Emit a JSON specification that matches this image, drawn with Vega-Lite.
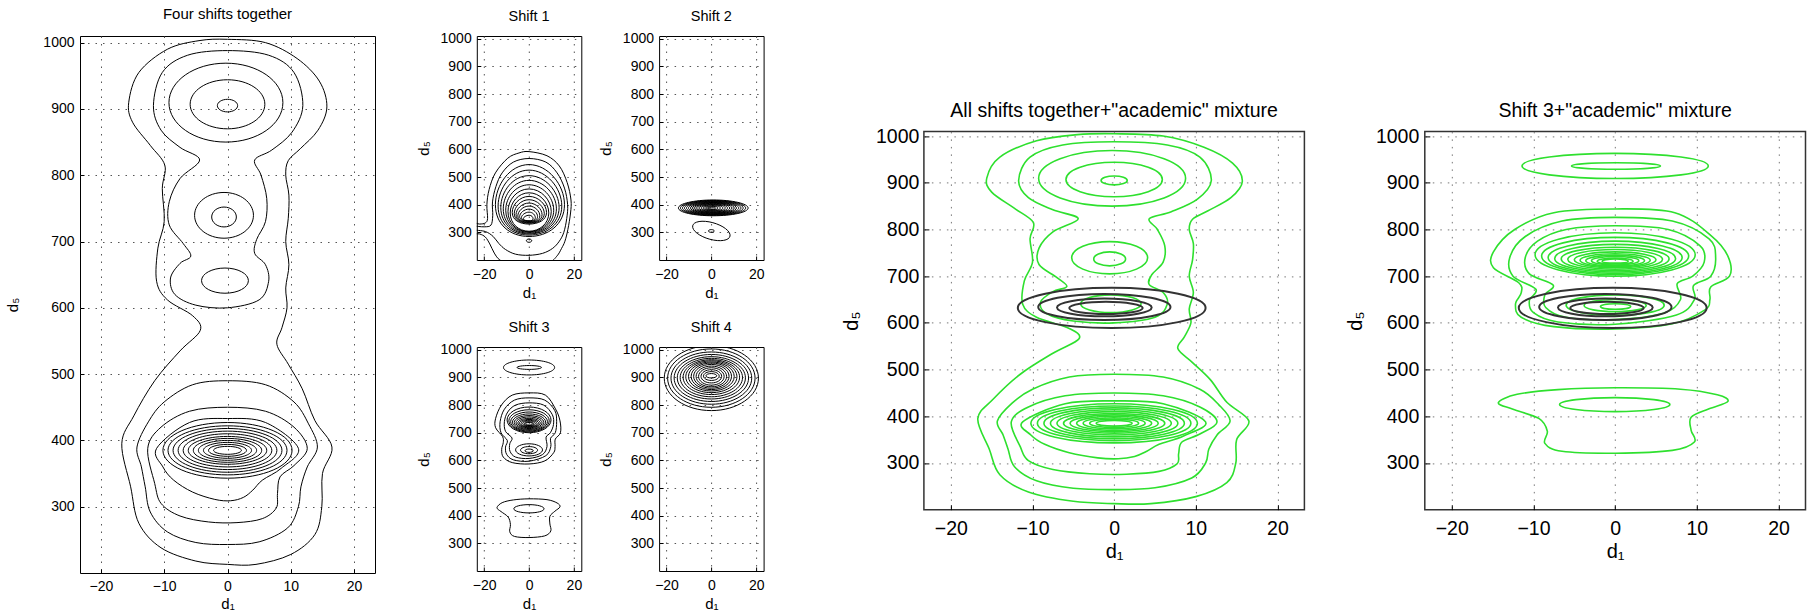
{
"$schema":"https://vega.github.io/schema/vega-lite/v6.json",
"padding":{"left":5,"top":6,"right":0,"bottom":0},
"autosize":{"type":"pad"},
"config":{
"font":"Liberation Sans",
"view":{"stroke":"#000","strokeWidth":1},
"axis":{"grid":true,"gridColor":"#555","gridDash":[1.5,6],"gridOpacity":1,"domain":false,"ticks":true,"tickSize":-4,"tickColor":"#000","labelColor":"#000","titleColor":"#000","titleFontWeight":"normal","labelFont":"Liberation Sans","titleFont":"Liberation Sans","labelFlush":false,"labelOverlap":false},
"title":{"fontWeight":"normal","color":"#000","font":"Liberation Sans","anchor":"middle"}
},
"datasets":{
"all_f":[
{"c":"a","o":1,"x":0,"y":1005},{"c":"a","o":2,"x":6,"y":1000},{"c":"a","o":3,"x":11,"y":976},{"c":"a","o":4,"x":14.5,"y":942},{"c":"a","o":5,"x":15.7,"y":903},{"c":"a","o":6,"x":14.3,"y":868},{"c":"a","o":7,"x":11.5,"y":840},{"c":"a","o":8,"x":9.6,"y":822},{"c":"a","o":9,"x":9.2,"y":800},{"c":"a","o":10,"x":9.7,"y":770},{"c":"a","o":11,"x":9.6,"y":735},{"c":"a","o":12,"x":9.2,"y":700},{"c":"a","o":13,"x":9.7,"y":665},{"c":"a","o":14,"x":9.2,"y":630},{"c":"a","o":15,"x":9.4,"y":600},{"c":"a","o":16,"x":8.6,"y":570},{"c":"a","o":17,"x":7.8,"y":545},{"c":"a","o":18,"x":9.6,"y":515},{"c":"a","o":19,"x":11.8,"y":478},{"c":"a","o":20,"x":13.8,"y":430},{"c":"a","o":21,"x":16.5,"y":390},{"c":"a","o":22,"x":15,"y":350},{"c":"a","o":23,"x":14.9,"y":300},{"c":"a","o":24,"x":13.8,"y":258},{"c":"a","o":25,"x":10,"y":228},{"c":"a","o":26,"x":4.5,"y":213},{"c":"a","o":27,"x":0,"y":213},{"c":"a","o":28,"x":-5,"y":218},{"c":"a","o":29,"x":-10.5,"y":238},{"c":"a","o":30,"x":-14,"y":275},{"c":"a","o":31,"x":-15.3,"y":330},{"c":"a","o":32,"x":-16.7,"y":395},{"c":"a","o":33,"x":-14.8,"y":437},{"c":"a","o":34,"x":-11.5,"y":490},{"c":"a","o":35,"x":-7.5,"y":535},{"c":"a","o":36,"x":-4.3,"y":566},{"c":"a","o":37,"x":-5.5,"y":588},{"c":"a","o":38,"x":-9.5,"y":612},{"c":"a","o":39,"x":-11.2,"y":640},{"c":"a","o":40,"x":-11,"y":690},{"c":"a","o":41,"x":-10,"y":730},{"c":"a","o":42,"x":-10.3,"y":780},{"c":"a","o":43,"x":-9.9,"y":815},{"c":"a","o":44,"x":-12.2,"y":845},{"c":"a","o":45,"x":-15,"y":880},{"c":"a","o":46,"x":-15.6,"y":910},{"c":"a","o":47,"x":-14,"y":955},{"c":"a","o":48,"x":-9.5,"y":990},{"c":"a","o":49,"x":-4.5,"y":1003},
{"c":"b","o":1,"x":0,"y":988},{"c":"b","o":2,"x":6.5,"y":981},{"c":"b","o":3,"x":10.5,"y":955},{"c":"b","o":4,"x":11.9,"y":905},{"c":"b","o":5,"x":10.2,"y":865},{"c":"b","o":6,"x":7,"y":838},{"c":"b","o":7,"x":4.3,"y":823},{"c":"b","o":8,"x":5.3,"y":800},{"c":"b","o":9,"x":6.2,"y":765},{"c":"b","o":10,"x":6,"y":730},{"c":"b","o":11,"x":4.6,"y":703},{"c":"b","o":12,"x":4.3,"y":682},{"c":"b","o":13,"x":6,"y":665},{"c":"b","o":14,"x":6.5,"y":640},{"c":"b","o":15,"x":5,"y":612},{"c":"b","o":16,"x":0,"y":600},{"c":"b","o":17,"x":-5,"y":604},{"c":"b","o":18,"x":-8.3,"y":620},{"c":"b","o":19,"x":-9,"y":645},{"c":"b","o":20,"x":-7.5,"y":667},{"c":"b","o":21,"x":-5.8,"y":678},{"c":"b","o":22,"x":-7,"y":697},{"c":"b","o":23,"x":-9.2,"y":725},{"c":"b","o":24,"x":-9.2,"y":760},{"c":"b","o":25,"x":-7.5,"y":795},{"c":"b","o":26,"x":-4.4,"y":823},{"c":"b","o":27,"x":-7.5,"y":842},{"c":"b","o":28,"x":-10.5,"y":868},{"c":"b","o":29,"x":-11.7,"y":905},{"c":"b","o":30,"x":-10.3,"y":955},{"c":"b","o":31,"x":-6.3,"y":981},
{"c":"c","o":1,"x":0,"y":490},{"c":"c","o":2,"x":6,"y":484},{"c":"c","o":3,"x":10.5,"y":458},{"c":"c","o":4,"x":12.8,"y":425},{"c":"c","o":5,"x":14.2,"y":390},{"c":"c","o":6,"x":12.6,"y":360},{"c":"c","o":7,"x":11.6,"y":330},{"c":"c","o":8,"x":11.2,"y":300},{"c":"c","o":9,"x":9.5,"y":268},{"c":"c","o":10,"x":5,"y":247},{"c":"c","o":11,"x":0,"y":243},{"c":"c","o":12,"x":-5,"y":246},{"c":"c","o":13,"x":-9.5,"y":262},{"c":"c","o":14,"x":-12.2,"y":292},{"c":"c","o":15,"x":-13,"y":330},{"c":"c","o":16,"x":-13.6,"y":360},{"c":"c","o":17,"x":-14.3,"y":390},{"c":"c","o":18,"x":-12.5,"y":428},{"c":"c","o":19,"x":-10,"y":458},{"c":"c","o":20,"x":-5.5,"y":484},
{"c":"d","o":1,"x":0,"y":450},{"c":"d","o":2,"x":6,"y":444},{"c":"d","o":3,"x":10.5,"y":420},{"c":"d","o":4,"x":12.6,"y":388},{"c":"d","o":5,"x":10.5,"y":362},{"c":"d","o":6,"x":8.3,"y":345},{"c":"d","o":7,"x":7.9,"y":320},{"c":"d","o":8,"x":7.7,"y":298},{"c":"d","o":9,"x":5.5,"y":282},{"c":"d","o":10,"x":1.5,"y":276},{"c":"d","o":11,"x":-3,"y":277},{"c":"d","o":12,"x":-7.5,"y":286},{"c":"d","o":13,"x":-10.5,"y":305},{"c":"d","o":14,"x":-11.5,"y":335},{"c":"d","o":15,"x":-12.6,"y":388},{"c":"d","o":16,"x":-10.5,"y":420},{"c":"d","o":17,"x":-6,"y":444},
{"c":"e","o":1,"x":0,"y":433},{"c":"e","o":2,"x":6,"y":427},{"c":"e","o":3,"x":11.2,"y":388},{"c":"e","o":4,"x":8.5,"y":358},{"c":"e","o":5,"x":5.5,"y":340},{"c":"e","o":6,"x":4,"y":325},{"c":"e","o":7,"x":2.5,"y":314},{"c":"e","o":8,"x":0.5,"y":309},{"c":"e","o":9,"x":-2,"y":311},{"c":"e","o":10,"x":-5.5,"y":322},{"c":"e","o":11,"x":-8.5,"y":340},{"c":"e","o":12,"x":-10.2,"y":360},{"c":"e","o":13,"x":-11.2,"y":388},{"c":"e","o":14,"x":-6,"y":427}
],
"all_e":[
{"c":"t3","o":1,"x":8.75,"y":909.5},{"c":"t3","o":2,"x":-0.25,"y":969},{"c":"t3","o":3,"x":-9.25,"y":909.5},{"c":"t3","o":4,"x":-0.25,"y":850},
{"c":"t4","o":1,"x":5.9,"y":907},{"c":"t4","o":2,"x":0,"y":944},{"c":"t4","o":3,"x":-5.9,"y":907},{"c":"t4","o":4,"x":0,"y":870},
{"c":"t5","o":1,"x":1.6,"y":905},{"c":"t5","o":2,"x":0,"y":914.5},{"c":"t5","o":3,"x":-1.6,"y":905},{"c":"t5","o":4,"x":0,"y":895.5},
{"c":"m3","o":1,"x":4.1,"y":739.5},{"c":"m3","o":2,"x":-0.55,"y":774},{"c":"m3","o":3,"x":-5.2,"y":739.5},{"c":"m3","o":4,"x":-0.55,"y":705},
{"c":"m4","o":1,"x":1.4,"y":737},{"c":"m4","o":2,"x":-0.55,"y":752},{"c":"m4","o":3,"x":-2.5,"y":737},{"c":"m4","o":4,"x":-0.55,"y":722},
{"c":"p3","o":1,"x":3.3,"y":641},{"c":"p3","o":2,"x":-0.4,"y":660},{"c":"p3","o":3,"x":-4.1,"y":641},{"c":"p3","o":4,"x":-0.4,"y":622},
{"c":"r1","o":1,"x":10.2,"y":385},{"c":"r1","o":2,"x":0,"y":427},{"c":"r1","o":3,"x":-10.2,"y":385},{"c":"r1","o":4,"x":0,"y":343},
{"c":"r2","o":1,"x":9.4,"y":385},{"c":"r2","o":2,"x":0,"y":422},{"c":"r2","o":3,"x":-9.4,"y":385},{"c":"r2","o":4,"x":0,"y":348},
{"c":"r3","o":1,"x":8.6,"y":385},{"c":"r3","o":2,"x":0,"y":418},{"c":"r3","o":3,"x":-8.6,"y":385},{"c":"r3","o":4,"x":0,"y":352},
{"c":"r4","o":1,"x":7.8,"y":385},{"c":"r4","o":2,"x":0,"y":414},{"c":"r4","o":3,"x":-7.8,"y":385},{"c":"r4","o":4,"x":0,"y":356},
{"c":"r5","o":1,"x":7,"y":385},{"c":"r5","o":2,"x":0,"y":410},{"c":"r5","o":3,"x":-7,"y":385},{"c":"r5","o":4,"x":0,"y":360},
{"c":"r6","o":1,"x":6.2,"y":385},{"c":"r6","o":2,"x":0,"y":406},{"c":"r6","o":3,"x":-6.2,"y":385},{"c":"r6","o":4,"x":0,"y":364},
{"c":"r7","o":1,"x":5.4,"y":385},{"c":"r7","o":2,"x":0,"y":403},{"c":"r7","o":3,"x":-5.4,"y":385},{"c":"r7","o":4,"x":0,"y":367},
{"c":"r8","o":1,"x":4.6,"y":385},{"c":"r8","o":2,"x":0,"y":400},{"c":"r8","o":3,"x":-4.6,"y":385},{"c":"r8","o":4,"x":0,"y":370},
{"c":"r9","o":1,"x":3.8,"y":385},{"c":"r9","o":2,"x":0,"y":397},{"c":"r9","o":3,"x":-3.8,"y":385},{"c":"r9","o":4,"x":0,"y":373},
{"c":"r10","o":1,"x":3,"y":385},{"c":"r10","o":2,"x":0,"y":394},{"c":"r10","o":3,"x":-3,"y":385},{"c":"r10","o":4,"x":0,"y":376},
{"c":"r11","o":1,"x":2.2,"y":385},{"c":"r11","o":2,"x":0,"y":391},{"c":"r11","o":3,"x":-2.2,"y":385},{"c":"r11","o":4,"x":0,"y":379}
],
"s1_f":[
{"c":"a","o":1,"x":0,"y":592},{"c":"a","o":2,"x":8,"y":577},{"c":"a","o":3,"x":13.5,"y":540},{"c":"a","o":4,"x":17,"y":480},{"c":"a","o":5,"x":18.7,"y":417},{"c":"a","o":6,"x":18.5,"y":370},{"c":"a","o":7,"x":17.3,"y":310},{"c":"a","o":8,"x":16,"y":268},{"c":"a","o":9,"x":14.5,"y":242},{"c":"a","o":10,"x":12.5,"y":215},{"c":"a","o":11,"x":9,"y":192},{"c":"a","o":12,"x":0,"y":180},{"c":"a","o":13,"x":-8,"y":184},{"c":"a","o":14,"x":-13,"y":200},{"c":"a","o":15,"x":-15.5,"y":225},{"c":"a","o":16,"x":-17.5,"y":258},{"c":"a","o":17,"x":-19.5,"y":283},{"c":"a","o":18,"x":-22,"y":294},{"c":"a","o":19,"x":-25,"y":298},{"c":"a","o":20,"x":-25,"y":332},{"c":"a","o":21,"x":-22,"y":330},{"c":"a","o":22,"x":-19.5,"y":334},{"c":"a","o":23,"x":-18.5,"y":350},{"c":"a","o":24,"x":-18.8,"y":400},{"c":"a","o":25,"x":-17.8,"y":455},{"c":"a","o":26,"x":-15,"y":515},{"c":"a","o":27,"x":-9.5,"y":568},{"c":"a","o":28,"x":-4.5,"y":587},
{"c":"b","o":1,"x":0,"y":567},{"c":"b","o":2,"x":7.5,"y":554},{"c":"b","o":3,"x":12.5,"y":515},{"c":"b","o":4,"x":15.8,"y":460},{"c":"b","o":5,"x":17.2,"y":400},{"c":"b","o":6,"x":16.8,"y":350},{"c":"b","o":7,"x":15.5,"y":300},{"c":"b","o":8,"x":13.5,"y":268},{"c":"b","o":9,"x":10.5,"y":242},{"c":"b","o":10,"x":6,"y":224},{"c":"b","o":11,"x":0,"y":217},{"c":"b","o":12,"x":-6,"y":221},{"c":"b","o":13,"x":-10.5,"y":238},{"c":"b","o":14,"x":-13.5,"y":260},{"c":"b","o":15,"x":-16,"y":285},{"c":"b","o":16,"x":-19.5,"y":303},{"c":"b","o":17,"x":-25,"y":310},{"c":"b","o":18,"x":-25,"y":322},{"c":"b","o":19,"x":-20,"y":320},{"c":"b","o":20,"x":-17,"y":326},{"c":"b","o":21,"x":-16.2,"y":360},{"c":"b","o":22,"x":-16.3,"y":410},{"c":"b","o":23,"x":-14.8,"y":465},{"c":"b","o":24,"x":-12,"y":515},{"c":"b","o":25,"x":-7,"y":554}
],
"s1_e":[
{"c":"e1","o":1,"x":15.8,"y":400},{"c":"e1","o":2,"x":0,"y":545},{"c":"e1","o":3,"x":-15,"y":400},{"c":"e1","o":4,"x":0,"y":285},
{"c":"e2","o":1,"x":14.6,"y":395},{"c":"e2","o":2,"x":0,"y":525},{"c":"e2","o":3,"x":-13.8,"y":395},{"c":"e2","o":4,"x":0,"y":290},
{"c":"e3","o":1,"x":13.4,"y":390},{"c":"e3","o":2,"x":0,"y":505},{"c":"e3","o":3,"x":-12.6,"y":390},{"c":"e3","o":4,"x":0,"y":294},
{"c":"e4","o":1,"x":12.2,"y":385},{"c":"e4","o":2,"x":0,"y":488},{"c":"e4","o":3,"x":-11.5,"y":385},{"c":"e4","o":4,"x":0,"y":297},
{"c":"e5","o":1,"x":11,"y":380},{"c":"e5","o":2,"x":0,"y":472},{"c":"e5","o":3,"x":-10.4,"y":380},{"c":"e5","o":4,"x":0,"y":300},
{"c":"e6","o":1,"x":9.9,"y":375},{"c":"e6","o":2,"x":0,"y":457},{"c":"e6","o":3,"x":-9.4,"y":375},{"c":"e6","o":4,"x":0,"y":302},
{"c":"e7","o":1,"x":8.8,"y":370},{"c":"e7","o":2,"x":0,"y":443},{"c":"e7","o":3,"x":-8.4,"y":370},{"c":"e7","o":4,"x":0,"y":304},
{"c":"e8","o":1,"x":7.8,"y":372},{"c":"e8","o":2,"x":0,"y":430},{"c":"e8","o":3,"x":-7.5,"y":372},{"c":"e8","o":4,"x":0,"y":330},
{"c":"e9","o":1,"x":6.8,"y":368},{"c":"e9","o":2,"x":0,"y":418},{"c":"e9","o":3,"x":-6.6,"y":368},{"c":"e9","o":4,"x":0,"y":333},
{"c":"e10","o":1,"x":5.8,"y":364},{"c":"e10","o":2,"x":0,"y":406},{"c":"e10","o":3,"x":-5.8,"y":364},{"c":"e10","o":4,"x":0,"y":335},
{"c":"e11","o":1,"x":4.8,"y":360},{"c":"e11","o":2,"x":0,"y":395},{"c":"e11","o":3,"x":-5,"y":360},{"c":"e11","o":4,"x":0,"y":337},
{"c":"e12","o":1,"x":3.8,"y":357},{"c":"e12","o":2,"x":0,"y":384},{"c":"e12","o":3,"x":-4.2,"y":357},{"c":"e12","o":4,"x":0,"y":339},
{"c":"e13","o":1,"x":2.8,"y":353},{"c":"e13","o":2,"x":0,"y":373},{"c":"e13","o":3,"x":-3.4,"y":353},{"c":"e13","o":4,"x":0,"y":341},
{"c":"e14","o":1,"x":1.8,"y":349},{"c":"e14","o":2,"x":0,"y":362},{"c":"e14","o":3,"x":-2.6,"y":349},{"c":"e14","o":4,"x":0,"y":342},
{"c":"sm","o":1,"x":1.2,"y":270},{"c":"sm","o":2,"x":0,"y":276},{"c":"sm","o":3,"x":-1.2,"y":270},{"c":"sm","o":4,"x":0,"y":264}
],
"s2_e":[
{"c":"r1","o":1,"x":16.4,"y":388},{"c":"r1","o":2,"x":0.8,"y":417},{"c":"r1","o":3,"x":-14.7,"y":388},{"c":"r1","o":4,"x":0.8,"y":360},
{"c":"r2","o":1,"x":15.3,"y":388},{"c":"r2","o":2,"x":0.8,"y":415.5},{"c":"r2","o":3,"x":-13.8,"y":388},{"c":"r2","o":4,"x":0.8,"y":361.5},
{"c":"r3","o":1,"x":14.2,"y":388},{"c":"r3","o":2,"x":0.8,"y":414},{"c":"r3","o":3,"x":-12.9,"y":388},{"c":"r3","o":4,"x":0.8,"y":363},
{"c":"r4","o":1,"x":13.2,"y":388},{"c":"r4","o":2,"x":0.8,"y":412.5},{"c":"r4","o":3,"x":-12,"y":388},{"c":"r4","o":4,"x":0.8,"y":364.5},
{"c":"r5","o":1,"x":12.2,"y":388},{"c":"r5","o":2,"x":0.8,"y":411},{"c":"r5","o":3,"x":-11.1,"y":388},{"c":"r5","o":4,"x":0.8,"y":366},
{"c":"r6","o":1,"x":11.2,"y":388},{"c":"r6","o":2,"x":0.8,"y":409.5},{"c":"r6","o":3,"x":-10.2,"y":388},{"c":"r6","o":4,"x":0.8,"y":367.5},
{"c":"r7","o":1,"x":10.2,"y":388},{"c":"r7","o":2,"x":0.8,"y":408},{"c":"r7","o":3,"x":-9.3,"y":388},{"c":"r7","o":4,"x":0.8,"y":369},
{"c":"r8","o":1,"x":9.2,"y":388},{"c":"r8","o":2,"x":0.8,"y":406.5},{"c":"r8","o":3,"x":-8.4,"y":388},{"c":"r8","o":4,"x":0.8,"y":370.5},
{"c":"r9","o":1,"x":8.2,"y":388},{"c":"r9","o":2,"x":0.8,"y":405},{"c":"r9","o":3,"x":-7.5,"y":388},{"c":"r9","o":4,"x":0.8,"y":372},
{"c":"r10","o":1,"x":7.2,"y":388},{"c":"r10","o":2,"x":0.8,"y":403},{"c":"r10","o":3,"x":-6.6,"y":388},{"c":"r10","o":4,"x":0.8,"y":374},
{"c":"r11","o":1,"x":6.2,"y":388},{"c":"r11","o":2,"x":0.8,"y":401},{"c":"r11","o":3,"x":-5.6,"y":388},{"c":"r11","o":4,"x":0.8,"y":376},
{"c":"r12","o":1,"x":5.1,"y":388},{"c":"r12","o":2,"x":0.8,"y":399},{"c":"r12","o":3,"x":-4.6,"y":388},{"c":"r12","o":4,"x":0.8,"y":378},
{"c":"r13","o":1,"x":4,"y":388},{"c":"r13","o":2,"x":0.8,"y":396.5},{"c":"r13","o":3,"x":-3.6,"y":388},{"c":"r13","o":4,"x":0.8,"y":380},
{"c":"r14","o":1,"x":2.9,"y":388},{"c":"r14","o":2,"x":0.8,"y":394},{"c":"r14","o":3,"x":-2.6,"y":388},{"c":"r14","o":4,"x":0.8,"y":382},
{"c":"r15","o":1,"x":1.8,"y":388},{"c":"r15","o":2,"x":0.8,"y":391},{"c":"r15","o":3,"x":-1.6,"y":388},{"c":"r15","o":4,"x":0.8,"y":384},
{"c":"tl","o":1,"x":8.3,"y":293},{"c":"tl","o":2,"x":-1,"y":338},{"c":"tl","o":3,"x":-8.3,"y":317},{"c":"tl","o":4,"x":1,"y":272},
{"c":"tn","o":1,"x":1.3,"y":305},{"c":"tn","o":2,"x":0,"y":310},{"c":"tn","o":3,"x":-1.3,"y":305},{"c":"tn","o":4,"x":0,"y":300}
],
"s3_f":[
{"c":"a","o":1,"x":0,"y":461},{"c":"a","o":2,"x":8,"y":458},{"c":"a","o":3,"x":12.5,"y":446},{"c":"a","o":4,"x":13.8,"y":432},{"c":"a","o":5,"x":11.5,"y":416},{"c":"a","o":6,"x":9.3,"y":398},{"c":"a","o":7,"x":9.3,"y":370},{"c":"a","o":8,"x":9.7,"y":345},{"c":"a","o":9,"x":7,"y":327},{"c":"a","o":10,"x":0,"y":321},{"c":"a","o":11,"x":-6.5,"y":325},{"c":"a","o":12,"x":-8.6,"y":342},{"c":"a","o":13,"x":-8.3,"y":368},{"c":"a","o":14,"x":-9.3,"y":395},{"c":"a","o":15,"x":-12.5,"y":415},{"c":"a","o":16,"x":-14.3,"y":429},{"c":"a","o":17,"x":-12,"y":447},{"c":"a","o":18,"x":-7,"y":457},
{"c":"b","o":1,"x":0,"y":844},{"c":"b","o":2,"x":7.3,"y":836},{"c":"b","o":3,"x":11.8,"y":786},{"c":"b","o":4,"x":13.8,"y":743},{"c":"b","o":5,"x":14,"y":700},{"c":"b","o":6,"x":11.7,"y":677},{"c":"b","o":7,"x":11.6,"y":650},{"c":"b","o":8,"x":11,"y":628},{"c":"b","o":9,"x":7,"y":598},{"c":"b","o":10,"x":0,"y":587},{"c":"b","o":11,"x":-7.5,"y":592},{"c":"b","o":12,"x":-11.5,"y":612},{"c":"b","o":13,"x":-12.2,"y":640},{"c":"b","o":14,"x":-11.5,"y":664},{"c":"b","o":15,"x":-11.8,"y":686},{"c":"b","o":16,"x":-14.9,"y":718},{"c":"b","o":17,"x":-14.9,"y":752},{"c":"b","o":18,"x":-12.3,"y":800},{"c":"b","o":19,"x":-7.5,"y":836},
{"c":"c","o":1,"x":0,"y":826},{"c":"c","o":2,"x":7,"y":818},{"c":"c","o":3,"x":11.5,"y":780},{"c":"c","o":4,"x":12.3,"y":740},{"c":"c","o":5,"x":11.7,"y":700},{"c":"c","o":6,"x":9.6,"y":680},{"c":"c","o":7,"x":9.7,"y":650},{"c":"c","o":8,"x":7.5,"y":617},{"c":"c","o":9,"x":0,"y":597},{"c":"c","o":10,"x":-7,"y":602},{"c":"c","o":11,"x":-10,"y":622},{"c":"c","o":12,"x":-10.5,"y":648},{"c":"c","o":13,"x":-9.7,"y":672},{"c":"c","o":14,"x":-12.5,"y":700},{"c":"c","o":15,"x":-12.9,"y":740},{"c":"c","o":16,"x":-11,"y":785},{"c":"c","o":17,"x":-6.5,"y":818},
{"c":"d","o":1,"x":0,"y":808},{"c":"d","o":2,"x":6.5,"y":800},{"c":"d","o":3,"x":10.4,"y":765},{"c":"d","o":4,"x":10.9,"y":730},{"c":"d","o":5,"x":9.5,"y":700},{"c":"d","o":6,"x":7.6,"y":684},{"c":"d","o":7,"x":8,"y":650},{"c":"d","o":8,"x":6,"y":621},{"c":"d","o":9,"x":0,"y":607},{"c":"d","o":10,"x":-6,"y":612},{"c":"d","o":11,"x":-8.5,"y":633},{"c":"d","o":12,"x":-8.6,"y":660},{"c":"d","o":13,"x":-7.6,"y":681},{"c":"d","o":14,"x":-10.5,"y":705},{"c":"d","o":15,"x":-11,"y":740},{"c":"d","o":16,"x":-9.5,"y":775},{"c":"d","o":17,"x":-6,"y":800}
],
"s3_e":[
{"c":"E1","o":1,"x":11.4,"y":936},{"c":"E1","o":2,"x":0,"y":963},{"c":"E1","o":3,"x":-11.4,"y":936},{"c":"E1","o":4,"x":0,"y":909},
{"c":"E2","o":1,"x":5.55,"y":936},{"c":"E2","o":2,"x":0.1,"y":943},{"c":"E2","o":3,"x":-5.35,"y":936},{"c":"E2","o":4,"x":0.1,"y":929},
{"c":"B2","o":1,"x":6.7,"y":425},{"c":"B2","o":2,"x":0,"y":440},{"c":"B2","o":3,"x":-6.8,"y":425},{"c":"B2","o":4,"x":0,"y":410},
{"c":"c1","o":1,"x":9.8,"y":746},{"c":"c1","o":2,"x":0,"y":793},{"c":"c1","o":3,"x":-9.8,"y":746},{"c":"c1","o":4,"x":0,"y":700},
{"c":"c2","o":1,"x":9,"y":743},{"c":"c2","o":2,"x":0,"y":783},{"c":"c2","o":3,"x":-9,"y":743},{"c":"c2","o":4,"x":0,"y":703},
{"c":"c3","o":1,"x":8.2,"y":740},{"c":"c3","o":2,"x":0,"y":775},{"c":"c3","o":3,"x":-8.2,"y":740},{"c":"c3","o":4,"x":0,"y":706},
{"c":"c4","o":1,"x":7.4,"y":738},{"c":"c4","o":2,"x":0,"y":768},{"c":"c4","o":3,"x":-7.4,"y":738},{"c":"c4","o":4,"x":0,"y":709},
{"c":"c5","o":1,"x":6.6,"y":737},{"c":"c5","o":2,"x":0,"y":762},{"c":"c5","o":3,"x":-6.6,"y":737},{"c":"c5","o":4,"x":0,"y":712},
{"c":"c6","o":1,"x":5.8,"y":736},{"c":"c6","o":2,"x":0,"y":757},{"c":"c6","o":3,"x":-5.8,"y":736},{"c":"c6","o":4,"x":0,"y":715},
{"c":"c7","o":1,"x":5,"y":735},{"c":"c7","o":2,"x":0,"y":752},{"c":"c7","o":3,"x":-5,"y":735},{"c":"c7","o":4,"x":0,"y":718},
{"c":"c8","o":1,"x":4.3,"y":734},{"c":"c8","o":2,"x":0,"y":748},{"c":"c8","o":3,"x":-4.3,"y":734},{"c":"c8","o":4,"x":0,"y":720},
{"c":"c9","o":1,"x":3.6,"y":733},{"c":"c9","o":2,"x":0,"y":745},{"c":"c9","o":3,"x":-3.6,"y":733},{"c":"c9","o":4,"x":0,"y":722},
{"c":"c10","o":1,"x":2.9,"y":733},{"c":"c10","o":2,"x":0,"y":742},{"c":"c10","o":3,"x":-2.9,"y":733},{"c":"c10","o":4,"x":0,"y":724},
{"c":"c11","o":1,"x":2.2,"y":732},{"c":"c11","o":2,"x":0,"y":739},{"c":"c11","o":3,"x":-2.2,"y":732},{"c":"c11","o":4,"x":0,"y":726},
{"c":"c12","o":1,"x":1.6,"y":732},{"c":"c12","o":2,"x":0,"y":737},{"c":"c12","o":3,"x":-1.6,"y":732},{"c":"c12","o":4,"x":0,"y":728},
{"c":"d1","o":1,"x":6,"y":638},{"c":"d1","o":2,"x":0,"y":660},{"c":"d1","o":3,"x":-6,"y":638},{"c":"d1","o":4,"x":0,"y":616},
{"c":"d2","o":1,"x":3.8,"y":637},{"c":"d2","o":2,"x":0,"y":650},{"c":"d2","o":3,"x":-3.8,"y":637},{"c":"d2","o":4,"x":0,"y":624},
{"c":"d3","o":1,"x":1.9,"y":635},{"c":"d3","o":2,"x":0,"y":641},{"c":"d3","o":3,"x":-1.8,"y":635},{"c":"d3","o":4,"x":0,"y":629}
],
"s4_e":[
{"c":"q1","o":1,"x":21,"y":897.5},{"c":"q1","o":2,"x":0,"y":1015},{"c":"q1","o":3,"x":-21,"y":897.5},{"c":"q1","o":4,"x":0,"y":780},
{"c":"q2","o":1,"x":19.5,"y":897.5},{"c":"q2","o":2,"x":0,"y":1003},{"c":"q2","o":3,"x":-19.5,"y":897.5},{"c":"q2","o":4,"x":0,"y":792},
{"c":"q3","o":1,"x":18,"y":897.5},{"c":"q3","o":2,"x":0,"y":992},{"c":"q3","o":3,"x":-18,"y":897.5},{"c":"q3","o":4,"x":0,"y":803},
{"c":"q4","o":1,"x":16.6,"y":898},{"c":"q4","o":2,"x":0,"y":983},{"c":"q4","o":3,"x":-16.6,"y":898},{"c":"q4","o":4,"x":0,"y":813},
{"c":"q5","o":1,"x":15.2,"y":898.5},{"c":"q5","o":2,"x":0,"y":975},{"c":"q5","o":3,"x":-15.2,"y":898.5},{"c":"q5","o":4,"x":0,"y":822},
{"c":"q6","o":1,"x":13.9,"y":899.5},{"c":"q6","o":2,"x":0,"y":969},{"c":"q6","o":3,"x":-13.9,"y":899.5},{"c":"q6","o":4,"x":0,"y":830},
{"c":"q7","o":1,"x":12.6,"y":901},{"c":"q7","o":2,"x":0,"y":964},{"c":"q7","o":3,"x":-12.6,"y":901},{"c":"q7","o":4,"x":0,"y":838},
{"c":"q8","o":1,"x":11.4,"y":902.5},{"c":"q8","o":2,"x":0,"y":960},{"c":"q8","o":3,"x":-11.4,"y":902.5},{"c":"q8","o":4,"x":0,"y":845},
{"c":"q9","o":1,"x":10.2,"y":903.5},{"c":"q9","o":2,"x":0,"y":956},{"c":"q9","o":3,"x":-10.2,"y":903.5},{"c":"q9","o":4,"x":0,"y":851},
{"c":"q10","o":1,"x":9,"y":904},{"c":"q10","o":2,"x":0,"y":952},{"c":"q10","o":3,"x":-9,"y":904},{"c":"q10","o":4,"x":0,"y":856},
{"c":"q11","o":1,"x":7.9,"y":904},{"c":"q11","o":2,"x":0,"y":947},{"c":"q11","o":3,"x":-7.9,"y":904},{"c":"q11","o":4,"x":0,"y":861},
{"c":"q12","o":1,"x":6.8,"y":903.5},{"c":"q12","o":2,"x":0,"y":941},{"c":"q12","o":3,"x":-6.8,"y":903.5},{"c":"q12","o":4,"x":0,"y":866},
{"c":"q13","o":1,"x":5.7,"y":903.5},{"c":"q13","o":2,"x":0,"y":935},{"c":"q13","o":3,"x":-5.7,"y":903.5},{"c":"q13","o":4,"x":0,"y":872},
{"c":"q14","o":1,"x":4.6,"y":904},{"c":"q14","o":2,"x":0,"y":928},{"c":"q14","o":3,"x":-4.6,"y":904},{"c":"q14","o":4,"x":0,"y":880},
{"c":"q15","o":1,"x":3.5,"y":905},{"c":"q15","o":2,"x":0,"y":921},{"c":"q15","o":3,"x":-3.5,"y":905},{"c":"q15","o":4,"x":0,"y":889},
{"c":"q16","o":1,"x":2.4,"y":906},{"c":"q16","o":2,"x":0,"y":914},{"c":"q16","o":3,"x":-2.4,"y":906},{"c":"q16","o":4,"x":0,"y":898}
],
"ac_e":[
{"c":"A1","o":1,"x":11.2,"y":632},{"c":"A1","o":2,"x":-0.3,"y":675},{"c":"A1","o":3,"x":-11.8,"y":632},{"c":"A1","o":4,"x":-0.3,"y":589},
{"c":"A2","o":1,"x":6.9,"y":634},{"c":"A2","o":2,"x":-1.2,"y":662},{"c":"A2","o":3,"x":-9.3,"y":634},{"c":"A2","o":4,"x":-1.2,"y":606},
{"c":"A3","o":1,"x":4.6,"y":633},{"c":"A3","o":2,"x":-1.2,"y":652},{"c":"A3","o":3,"x":-7,"y":633},{"c":"A3","o":4,"x":-1.2,"y":614},
{"c":"A4","o":1,"x":3.5,"y":632},{"c":"A4","o":2,"x":-1,"y":645},{"c":"A4","o":3,"x":-5.5,"y":632},{"c":"A4","o":4,"x":-1,"y":619}
]
},
"hconcat":[
{"hconcat":[
{"width":295,"height":537,
"title":{"text":"Four shifts together","fontSize":15,"offset":13.6},
"encoding":{
"x":{"field":"x","type":"quantitative","scale":{"domain":[-23.3,23.3],"nice":false,"zero":false},"axis":{"values":[-20,-10,0,10,20],"format":"d","title":"d₁","labelFontSize":14,"titleFontSize":15,"labelPadding":10,"titlePadding":3}},
"y":{"field":"y","type":"quantitative","scale":{"domain":[200,1010],"nice":false,"zero":false},"axis":{"values":[300,400,500,600,700,800,900,1000],"format":"d","title":"d₅","labelFontSize":14,"titleFontSize":15,"labelPadding":10,"titlePadding":22}},
"detail":{"field":"c"},"order":{"field":"o"}},
"layer":[
{"data":{"name":"all_f"},"mark":{"type":"line","interpolate":"cardinal-closed","tension":0,"clip":true,"color":"#000","strokeWidth":1}},
{"data":{"name":"all_e"},"mark":{"type":"line","interpolate":"cardinal-closed","tension":-0.657,"clip":true,"color":"#000","strokeWidth":1}}
]},
{"vconcat":[
{"hconcat":[
{"width":104.5,"height":224,
"title":{"text":"Shift 1","fontSize":14.5,"offset":7},
"encoding":{
"x":{"field":"x","type":"quantitative","scale":{"domain":[-23.3,23.3],"nice":false,"zero":false},"axis":{"values":[-20,0,20],"format":"d","title":"d₁","labelFontSize":14,"titleFontSize":15,"labelPadding":11,"titlePadding":4}},
"y":{"field":"y","type":"quantitative","scale":{"domain":[200,1010],"nice":false,"zero":false},"axis":{"values":[300,400,500,600,700,800,900,1000],"format":"d","title":"d₅","labelFontSize":14,"titleFontSize":15,"labelPadding":9.6,"titlePadding":8.5}},
"detail":{"field":"c"},"order":{"field":"o"}},
"layer":[
{"data":{"name":"s1_f"},"mark":{"type":"line","interpolate":"cardinal-closed","tension":0,"clip":true,"color":"#000","strokeWidth":1}},
{"data":{"name":"s1_e"},"mark":{"type":"line","interpolate":"cardinal-closed","tension":-0.657,"clip":true,"color":"#000","strokeWidth":1}}
]},
{"width":104.5,"height":224,
"title":{"text":"Shift 2","fontSize":14.5,"offset":7},
"encoding":{
"x":{"field":"x","type":"quantitative","scale":{"domain":[-23.3,23.3],"nice":false,"zero":false},"axis":{"values":[-20,0,20],"format":"d","title":"d₁","labelFontSize":14,"titleFontSize":15,"labelPadding":11,"titlePadding":4}},
"y":{"field":"y","type":"quantitative","scale":{"domain":[200,1010],"nice":false,"zero":false},"axis":{"values":[300,400,500,600,700,800,900,1000],"format":"d","title":"d₅","labelFontSize":14,"titleFontSize":15,"labelPadding":9.6,"titlePadding":8.5}},
"detail":{"field":"c"},"order":{"field":"o"}},
"layer":[
{"data":{"name":"s2_e"},"mark":{"type":"line","interpolate":"cardinal-closed","tension":-0.657,"clip":true,"color":"#000","strokeWidth":1}}
]}
],"spacing":15.3},
{"hconcat":[
{"width":104.5,"height":224,
"title":{"text":"Shift 3","fontSize":14.5,"offset":7},
"encoding":{
"x":{"field":"x","type":"quantitative","scale":{"domain":[-23.3,23.3],"nice":false,"zero":false},"axis":{"values":[-20,0,20],"format":"d","title":"d₁","labelFontSize":14,"titleFontSize":15,"labelPadding":11,"titlePadding":4}},
"y":{"field":"y","type":"quantitative","scale":{"domain":[200,1010],"nice":false,"zero":false},"axis":{"values":[300,400,500,600,700,800,900,1000],"format":"d","title":"d₅","labelFontSize":14,"titleFontSize":15,"labelPadding":9.6,"titlePadding":8.5}},
"detail":{"field":"c"},"order":{"field":"o"}},
"layer":[
{"data":{"name":"s3_f"},"mark":{"type":"line","interpolate":"cardinal-closed","tension":0,"clip":true,"color":"#000","strokeWidth":1}},
{"data":{"name":"s3_e"},"mark":{"type":"line","interpolate":"cardinal-closed","tension":-0.657,"clip":true,"color":"#000","strokeWidth":1}}
]},
{"width":104.5,"height":224,
"title":{"text":"Shift 4","fontSize":14.5,"offset":7},
"encoding":{
"x":{"field":"x","type":"quantitative","scale":{"domain":[-23.3,23.3],"nice":false,"zero":false},"axis":{"values":[-20,0,20],"format":"d","title":"d₁","labelFontSize":14,"titleFontSize":15,"labelPadding":11,"titlePadding":4}},
"y":{"field":"y","type":"quantitative","scale":{"domain":[200,1010],"nice":false,"zero":false},"axis":{"values":[300,400,500,600,700,800,900,1000],"format":"d","title":"d₅","labelFontSize":14,"titleFontSize":15,"labelPadding":9.6,"titlePadding":8.5}},
"detail":{"field":"c"},"order":{"field":"o"}},
"layer":[
{"data":{"name":"s4_e"},"mark":{"type":"line","interpolate":"cardinal-closed","tension":-0.657,"clip":true,"color":"#000","strokeWidth":1}}
]}
],"spacing":15.3}
],"spacing":18}
],"spacing":39.8},
{"vconcat":[
{"width":1,"height":1,"data":{"values":[{"a":0}]},"mark":{"type":"point","opacity":0},"view":{"stroke":null}},
{"hconcat":[
{"width":380.5,"height":378.3,
"view":{"stroke":"#333","strokeWidth":1.5},
"title":{"text":"All shifts together+\"academic\" mixture","fontSize":19.5,"offset":5},
"encoding":{
"x":{"field":"x","type":"quantitative","scale":{"domain":[-23.3,23.3],"nice":false,"zero":false},"axis":{"values":[-20,-10,0,10,20],"format":"d","title":"d₁","labelFontSize":19.5,"titleFontSize":20,"labelPadding":15,"titlePadding":3,"tickSize":-5,"gridColor":"#777"}},
"y":{"field":"y","type":"quantitative","scale":{"domain":[200,1010],"nice":false,"zero":false},"axis":{"values":[300,400,500,600,700,800,900,1000],"format":"d","title":"d₅","labelFontSize":19.5,"titleFontSize":20,"labelPadding":10,"titlePadding":14,"tickSize":-5,"gridColor":"#777"}},
"detail":{"field":"c"},"order":{"field":"o"}},
"layer":[
{"data":{"name":"all_f"},"mark":{"type":"line","interpolate":"cardinal-closed","tension":0,"clip":true,"color":"#2ee02e","strokeWidth":1.6}},
{"data":{"name":"all_e"},"mark":{"type":"line","interpolate":"cardinal-closed","tension":-0.657,"clip":true,"color":"#2ee02e","strokeWidth":1.6}},
{"data":{"name":"ac_e"},"mark":{"type":"line","interpolate":"cardinal-closed","tension":-0.657,"clip":true,"color":"#333","strokeWidth":2}}
]},
{"width":380.7,"height":378.3,
"view":{"stroke":"#333","strokeWidth":1.5},
"title":{"text":"Shift 3+\"academic\" mixture","fontSize":19.5,"offset":5},
"encoding":{
"x":{"field":"x","type":"quantitative","scale":{"domain":[-23.3,23.3],"nice":false,"zero":false},"axis":{"values":[-20,-10,0,10,20],"format":"d","title":"d₁","labelFontSize":19.5,"titleFontSize":20,"labelPadding":15,"titlePadding":3,"tickSize":-5,"gridColor":"#777"}},
"y":{"field":"y","type":"quantitative","scale":{"domain":[200,1010],"nice":false,"zero":false},"axis":{"values":[300,400,500,600,700,800,900,1000],"format":"d","title":"d₅","labelFontSize":19.5,"titleFontSize":20,"labelPadding":11,"titlePadding":9.5,"tickSize":-5,"gridColor":"#777"}},
"detail":{"field":"c"},"order":{"field":"o"}},
"layer":[
{"data":{"name":"s3_f"},"mark":{"type":"line","interpolate":"cardinal-closed","tension":0,"clip":true,"color":"#2ee02e","strokeWidth":1.6}},
{"data":{"name":"s3_e"},"mark":{"type":"line","interpolate":"cardinal-closed","tension":-0.657,"clip":true,"color":"#2ee02e","strokeWidth":1.6}},
{"data":{"name":"ac_e"},"mark":{"type":"line","interpolate":"cardinal-closed","tension":-0.657,"clip":true,"color":"#333","strokeWidth":2}}
]}
],"spacing":38.9}
],"spacing":59.4}
],
"spacing":74.9
}
